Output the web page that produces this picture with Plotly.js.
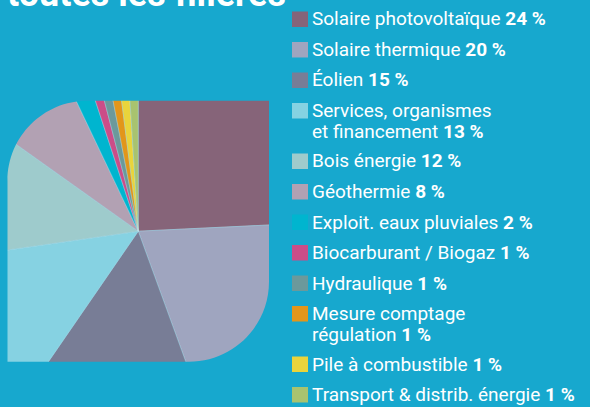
<!DOCTYPE html>
<html><head><meta charset="utf-8">
<script src="https://cdn.plot.ly/plotly-3.0.1.min.js"></script>
<style>
html,body{margin:0;padding:0;overflow:hidden;background:#17A8CE;width:590px;height:407px}
#chart{position:absolute;left:-60px;top:0;width:650px;height:467px}
</style>
</head><body><div id="chart"></div>
<script>
// ---- data ----
const categories = [
  "Solaire photovoltaïque",
  "Solaire thermique",
  "Éolien",
  "Services, organismes<br>et financement",
  "Bois énergie",
  "Géothermie",
  "Exploit. eaux pluviales",
  "Biocarburant / Biogaz",
  "Hydraulique",
  "Mesure comptage<br>régulation",
  "Pile à combustible",
  "Transport & distrib. énergie"
];
const shares = [24, 20, 15, 13, 12, 8, 2, 1, 1, 1, 1, 1];
const colors = ["#866479","#9FA5BF","#787D96","#86D2E2","#9ECBCC","#B2A1B3",
                "#00B5CF","#CB4D88","#6B999B","#E2961A","#E9D43B","#A8C36F"];
const titleText = "toutes les filières";

// ---- layout helpers (pixel -> paper) ----
const P = 60, W = 650, H = 467, BG = "#17A8CE";
const px = x => (x + P) / W;
const py = y => 1 - y / H;

const L = 7.5, R = 269, T = 100.7, B = 361.7, rc = 80, k = 0.5523;
const cx = (L + R) / 2, cy = (T + B) / 2, rad = 186;

function pt(x, y) { return px(x).toFixed(5) + "," + py(y).toFixed(5); }
const inner = "M" + pt(L + rc, T) + " L" + pt(R, T) + " L" + pt(R, B - rc) +
  " C" + pt(R, B - rc + k * rc) + " " + pt(R - rc + k * rc, B) + " " + pt(R - rc, B) +
  " L" + pt(L, B) + " L" + pt(L, T + rc) +
  " C" + pt(L, T + rc - k * rc) + " " + pt(L + rc - k * rc, T) + " " + pt(L + rc, T) + " Z";
const outer = "M-0.1,-0.1 L1.1,-0.1 L1.1,1.1 L-0.1,1.1 Z ";

const shapes = [{
  type: "path", xref: "paper", yref: "paper", path: outer + inner,
  fillcolor: BG, fillrule: "evenodd", line: {width: 0}, layer: "above"
}];
const annotations = [];

let rowTop = 11.5;
categories.forEach((c, i) => {
  const lines = c.split("<br>");
  shapes.push({type: "rect", xref: "paper", yref: "paper",
    x0: px(292), x1: px(308), y0: py(rowTop), y1: py(rowTop + 15.5),
    fillcolor: colors[i], line: {width: 0}, layer: "above"});
  lines.forEach((ln, j) => {
    const txt = j === lines.length - 1 ? ln + " <b>" + shares[i] + " %</b>" : ln;
    annotations.push({xref: "paper", yref: "paper", x: px(311), y: py(rowTop + 7.5 + j * 21),
      xanchor: "left", yanchor: "middle", showarrow: false, text: txt, borderpad: 0,
      font: {family: "Roboto", size: 19, color: "#FFFFFF"}});
  });
  rowTop += lines.length > 1 ? 50.5 : 30.5;
});

annotations.push({xref: "paper", yref: "paper", x: px(5), y: py(17.5), xanchor: "left", yanchor: "bottom",
  showarrow: false, text: "<b>" + titleText + "</b>",
  font: {family: "Roboto", size: 36, color: "#FFFFFF"}});

const trace = {
  type: "pie", labels: categories.map(c => c.replace("<br>", " ")), values: shares,
  marker: {colors: colors, line: {color: "rgba(190,225,235,0.6)", width: 0.6}},
  sort: false, direction: "clockwise", rotation: 0,
  textinfo: "none", hoverinfo: "none", showlegend: false,
  domain: {x: [px(cx - rad), px(cx + rad)], y: [py(cy + rad), py(cy - rad)]}
};

Plotly.newPlot("chart", [trace], {
  width: W, height: H, margin: {l: 0, r: 0, t: 0, b: 0},
  paper_bgcolor: BG, plot_bgcolor: BG, showlegend: false,
  shapes: shapes, annotations: annotations
}, {staticPlot: true});
</script>
</body></html>
